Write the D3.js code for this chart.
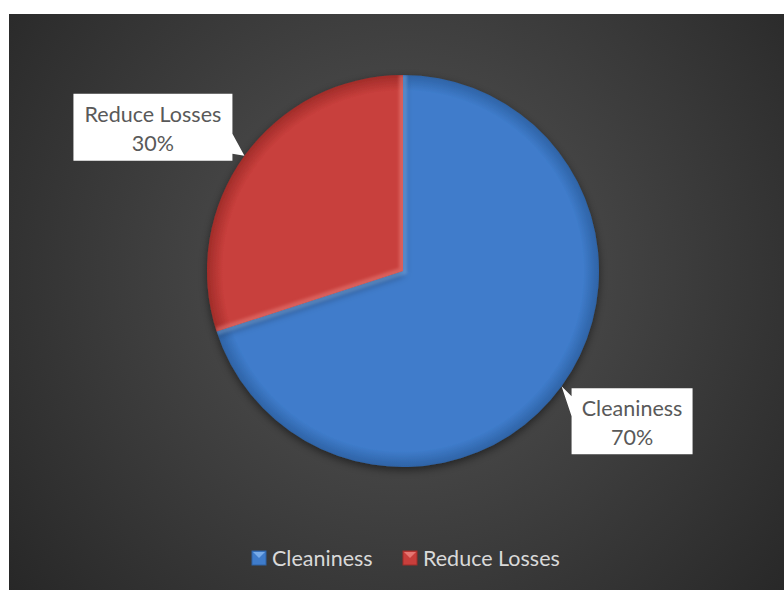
<!DOCTYPE html>
<html>
<head>
<meta charset="utf-8">
<script src="https://cdn.jsdelivr.net/npm/d3@7"></script>
<style>
  body { margin: 0; background: #fff; }
  svg { display: block; }
</style>
</head>
<body>
<svg id="chart" width="784" height="590"></svg>
<script>
var categories = ['Cleaniness', 'Reduce Losses'];
var values = [70, 30];
var colors = ['#3f7ccb', '#c83f3c'];
var lights = ['#86b6f0', '#ee8480'];
var darks = ['#2e63a6', '#a12c29'];

var svg = d3.select('#chart'),
  W = 784, H = 590,
  cx = 403, cy = 271, R = 196;

var FONT = 'Lato, "Open Sans", sans-serif';

var defs = svg.append('defs');

var bg = defs.append('radialGradient')
  .attr('id', 'bg')
  .attr('gradientUnits', 'userSpaceOnUse')
  .attr('cx', cx).attr('cy', cy).attr('r', 520);
bg.append('stop').attr('offset', '0').attr('stop-color', '#565656');
bg.append('stop').attr('offset', '1').attr('stop-color', '#262626');

svg.append('rect')
  .attr('x', 9).attr('y', 14)
  .attr('width', W - 9).attr('height', H - 14)
  .attr('fill', 'url(#bg)');

categories.forEach(function (c, i) {
  var g = defs.append('radialGradient')
    .attr('id', 'slice' + i)
    .attr('gradientUnits', 'userSpaceOnUse')
    .attr('cx', 0).attr('cy', 0).attr('r', R);
  g.append('stop').attr('offset', '0').attr('stop-color', colors[i]);
  g.append('stop').attr('offset', '0.92').attr('stop-color', colors[i]);
  g.append('stop').attr('offset', '1').attr('stop-color', darks[i]);
});

defs.append('filter').attr('id', 'shadow')
  .attr('x', '-20%').attr('y', '-20%').attr('width', '140%').attr('height', '140%')
  .append('feDropShadow')
  .attr('dx', 0).attr('dy', 3).attr('stdDeviation', 4)
  .attr('flood-color', '#000').attr('flood-opacity', 0.5);

defs.append('filter').attr('id', 'soft')
  .append('feGaussianBlur').attr('stdDeviation', 1.5);

var pie = d3.pie().sort(null).value(function (d) { return d; });
var arcs = pie(values);
var arc = d3.arc().innerRadius(0).outerRadius(R);

var pg = svg.append('g').attr('transform', 'translate(' + cx + ',' + cy + ')');

arcs.forEach(function (d, i) {
  defs.append('clipPath').attr('id', 'clip' + i)
    .append('path').attr('d', arc(d));
});

pg.selectAll('path.slice')
  .data(arcs)
  .enter().append('path')
  .attr('class', 'slice')
  .attr('d', arc)
  .attr('fill', function (d, i) { return 'url(#slice' + i + ')'; })
  .attr('filter', 'url(#shadow)');

// soft bevel highlight along the straight edges, clipped to each slice
pg.selectAll('g.bevel')
  .data(arcs)
  .enter().append('g')
  .attr('class', 'bevel')
  .attr('clip-path', function (d, i) { return 'url(#clip' + i + ')'; })
  .append('path')
  .attr('d', function (d) {
    var s = d.startAngle, e = d.endAngle;
    return 'M' + (Math.sin(s) * R) + ',' + (-Math.cos(s) * R) + ' L0,0 L' +
      (Math.sin(e) * R) + ',' + (-Math.cos(e) * R);
  })
  .attr('fill', 'none')
  .attr('stroke', function (d, i) { return lights[i]; })
  .attr('stroke-width', 8)
  .attr('stroke-opacity', 0.45)
  .attr('filter', 'url(#soft)');

// data labels with callout
var labelBoxes = [
  { dx: 10, dy: 2, w: 121, h: 66 },
  { dx: -171, dy: -62, w: 159, h: 67 }
];

var lg = svg.append('g');
arcs.forEach(function (d, i) {
  var a = (d.startAngle + d.endAngle) / 2;
  var px = cx + Math.sin(a) * R, py = cy - Math.cos(a) * R;
  var b = labelBoxes[i];
  var bx = px + b.dx, by = py + b.dy;
  var path;
  if (i === 0) {
    path = 'M' + bx + ',' + by + ' L' + (bx + b.w) + ',' + by + ' L' + (bx + b.w) + ',' + (by + b.h) +
      ' L' + bx + ',' + (by + b.h) + ' L' + bx + ',' + (by + 28) + ' L' + px + ',' + py + ' L' + bx + ',' + (by + 8) + 'Z';
  } else {
    var rx = bx + b.w;
    path = 'M' + bx + ',' + by + ' L' + rx + ',' + by + ' L' + rx + ',' + (by + 40) + ' L' + px + ',' + py +
      ' L' + rx + ',' + (by + 60) + ' L' + rx + ',' + (by + b.h) + ' L' + bx + ',' + (by + b.h) + 'Z';
  }
  lg.append('path').attr('d', path).attr('fill', '#ffffff');
  var tx = bx + b.w / 2;
  lg.append('text')
    .attr('x', tx).attr('y', by + 28)
    .attr('text-anchor', 'middle')
    .attr('font-family', FONT)
    .attr('font-size', 21.5)
    .attr('fill', '#595959')
    .text(categories[i]);
  lg.append('text')
    .attr('x', tx).attr('y', by + 57)
    .attr('text-anchor', 'middle')
    .attr('font-family', FONT)
    .attr('font-size', 21.5)
    .attr('fill', '#595959')
    .text(values[i] + '%');
});

// legend
var legendX = [252, 403];
var leg = svg.append('g');
categories.forEach(function (c, i) {
  leg.append('rect')
    .attr('x', legendX[i]).attr('y', 551)
    .attr('width', 14).attr('height', 14)
    .attr('fill', colors[i])
    .attr('stroke', darks[i]).attr('stroke-width', 1);
  leg.append('path')
    .attr('d', 'M' + (legendX[i] + 1) + ',552 L' + (legendX[i] + 13) + ',552 L' + (legendX[i] + 7) + ',558 Z')
    .attr('fill', lights[i]).attr('opacity', 0.8);
  leg.append('text')
    .attr('x', legendX[i] + 20).attr('y', 566)
    .attr('font-family', FONT)
    .attr('font-size', 21.5)
    .attr('fill', '#d9d9d9')
    .text(c);
});
</script>
</body>
</html>
